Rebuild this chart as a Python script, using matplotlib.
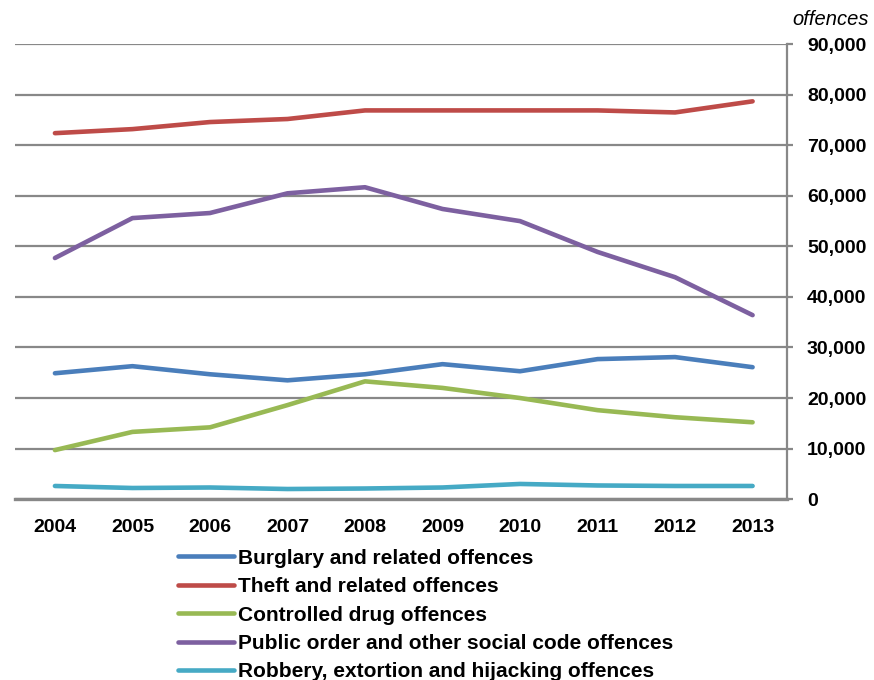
import numpy as np
import matplotlib.pyplot as plt
from matplotlib.ticker import FuncFormatter

plt.rcParams['font.family'] = ['Liberation Sans', 'DejaVu Sans']

years = ["2004", "2005", "2006", "2007", "2008", "2009", "2010", "2011", "2012", "2013"]
burglary = [24900, 26300, 24700, 23500, 24700, 26700, 25300, 27700, 28100, 26100]
theft = [72400, 73200, 74600, 75200, 76900, 76900, 76900, 76900, 76500, 78700]
drugs = [9700, 13300, 14200, 18600, 23300, 22000, 20000, 17600, 16200, 15200]
public_order = [47700, 55600, 56600, 60500, 61700, 57400, 55000, 48900, 43900, 36400]
robbery = [2600, 2200, 2300, 2000, 2100, 2300, 3000, 2700, 2600, 2600]

series = [
    ("Burglary and related offences", burglary, "#4A7EBB"),
    ("Theft and related offences", theft, "#BE4B48"),
    ("Controlled drug offences", drugs, "#98B954"),
    ("Public order and other social code offences", public_order, "#7D60A0"),
    ("Robbery, extortion and hijacking offences", robbery, "#46AAC5"),
]

fig = plt.figure(figsize=(8.74, 6.8), dpi=100)
ax = fig.add_axes([0.017, 0.266, 0.884, 0.669])
x = np.arange(len(years))

for name, vals, col in series:
    ax.plot(x, vals, color=col, lw=3.3, label=name, solid_capstyle="round")

ax.set_xlim(-0.517, 9.45)
ax.set_ylim(0, 90000)
ax.set_yticks(np.arange(0, 90001, 10000))
ax.yaxis.set_major_formatter(FuncFormatter(lambda v, p: f"{int(v):,}"))
ax.yaxis.tick_right()
ax.set_xticks(x, years)

ax.grid(axis="y", color="#888888", lw=1.6)
ax.set_axisbelow(True)
for s in ["top", "left"]:
    ax.spines[s].set_visible(False)
ax.spines["right"].set_color("#888888")
ax.spines["right"].set_linewidth(1.6)
ax.spines["bottom"].set_color("#888888")
ax.spines["bottom"].set_linewidth(2.4)
ax.tick_params(axis="y", length=4, width=1.6, color="#888888", pad=10)
ax.tick_params(axis="x", length=0, pad=14)
for lbl in ax.get_xticklabels() + ax.get_yticklabels():
    lbl.set_fontsize(14)
    lbl.set_fontweight("bold")

fig.text(0.994, 0.958, "offences", ha="right", va="bottom", fontsize=14.5, style="italic")

fig.legend(loc="upper left", bbox_to_anchor=(0.2037, 0.193), frameon=False,
           prop={"size": 15, "weight": "bold"}, handlelength=2.7, handletextpad=0.2,
           labelspacing=0.45, borderpad=0, borderaxespad=0)

fig.savefig("out.png", dpi=100)
